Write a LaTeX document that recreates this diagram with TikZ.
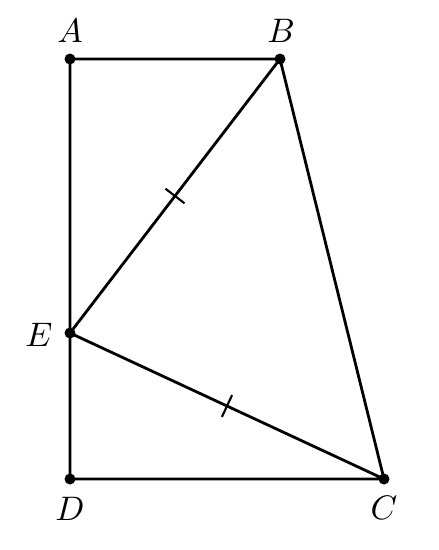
\documentclass[tikz,border=0pt]{standalone}
\usetikzlibrary{calc}
\begin{document}
\begin{tikzpicture}[x=1pt,y=-1pt,
  seg/.style={line width=2.8pt,line cap=round,line join=round},
  tick/.style={line width=2.1pt},
  pt/.style={circle,fill=black,inner sep=0pt,minimum size=11pt},
  lab/.style={inner sep=0pt,scale=3.4}]
\useasboundingbox (0,0) rectangle (439,550);
\coordinate (A) at (70,59);
\coordinate (B) at (280,59);
\coordinate (E) at (70,333);
\coordinate (D) at (70,479);
\coordinate (C) at (384,479);
\draw[seg] (B) -- (A) -- (D) -- (C) -- (B) -- (E) -- (C);
\draw[tick] ($(B)!0.5!(E)!12pt!90:(E)$) -- ($(B)!0.5!(E)!12pt!-90:(E)$);
\draw[tick] ($(E)!0.5!(C)!12pt!90:(C)$) -- ($(E)!0.5!(C)!12pt!-90:(C)$);
\foreach \p in {A,B,C,D,E} \node[pt] (n\p) at (\p) {};
\node[lab] (lA) at (70,31) {$A$};
\node[lab] (lB) at (281,31) {$B$};
\node[lab] (lE) at (39,335) {$E$};
\node[lab] (lD) at (70,509) {$D$};
\node[lab] (lC) at (384,508) {$C$};
\end{tikzpicture}
\end{document}
